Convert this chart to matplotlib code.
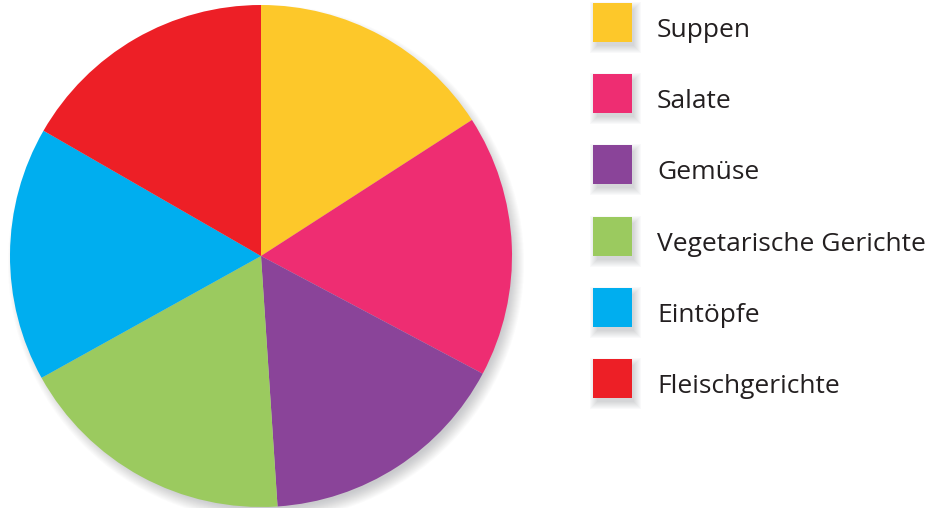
import numpy as np
import matplotlib.pyplot as plt
from matplotlib.patches import Circle, Rectangle

labels = ["Suppen", "Salate", "Gemüse", "Vegetarische Gerichte", "Eintöpfe", "Fleischgerichte"]
shares = [15.9, 16.9, 16.2, 18.0, 16.4, 16.7]
colors = ["#FDC82A", "#EE2D72", "#8A4499", "#9BCA5F", "#00AEEF", "#ED1F26"]

W, H = 930, 508
fig = plt.figure(figsize=(W / 100, H / 100), dpi=100)
ax = fig.add_axes([0, 0, 1, 1])

cx, cy, r = 261, H - 256, 251

# soft shadow under the pie
for i in range(14):
    ax.add_patch(Circle((cx + 5, cy - 7), r + 7 - i, color="#555a60",
                        alpha=0.025, lw=0, zorder=1))

ax.pie(shares, colors=colors, startangle=90, counterclock=False,
       center=(cx, cy), radius=r, frame=True,
       wedgeprops=dict(linewidth=0, zorder=2))
ax.set_xlim(0, W)
ax.set_ylim(0, H)
ax.set_aspect("equal")
ax.axis("off")

# legend
sq = 39
x0 = 593
y_top = 22.5
step = 71.2
for i, (lab, col) in enumerate(zip(labels, colors)):
    yc = H - (y_top + i * step)
    for k in range(8):
        ax.add_patch(Rectangle((x0 - 3 + k, yc - sq / 2 - 11 + k),
                               sq + 12 - 2 * k, sq + 12 - 2 * k,
                               color="#555a60", alpha=0.03, lw=0, zorder=3))
    ax.add_patch(Rectangle((x0, yc - sq / 2), sq, sq, color=col, lw=0, zorder=4))
    ax.text(657, yc - 14.5, lab, fontsize=19, family="Open Sans", color="#231f20",
            va="baseline", ha="left", zorder=5)

fig.savefig("out.png", dpi=100)
